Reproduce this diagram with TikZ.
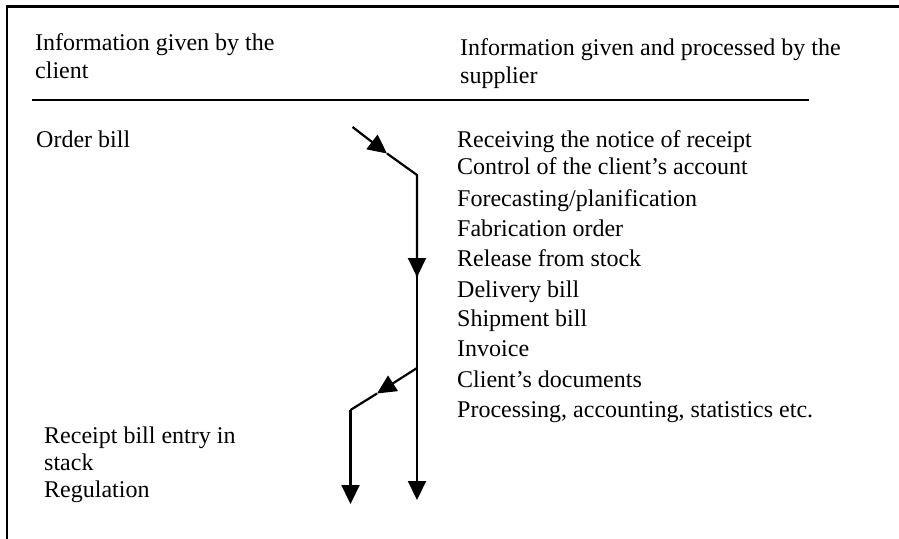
\documentclass[tikz,border=0pt]{standalone}
\usepackage{fontspec}
\setmainfont{Liberation Serif}
\usetikzlibrary{arrows.meta}
\begin{document}
\begin{tikzpicture}[x=1pt,y=-1pt,
  txt/.style={anchor=base west,inner sep=0pt,font=\fontsize{24}{28}\selectfont},
  rule/.style={line width=2.2pt},
  flow/.style={line width=2.2pt,miter limit=10},
  arr/.style={flow,-{Triangle[length=19pt,width=18pt]}}]
\useasboundingbox (0,0) rectangle (899,538);
% frame (top and left only)
\coordinate (tl) at (7.2,6.5);
\coordinate (tr) at (899,6.5);
\coordinate (bl) at (7.2,538);
\draw[rule,line cap=rect] (tr) -- (tl) -- (bl);
% header rule
\coordinate (hl) at (32,100);
\coordinate (hr) at (809,100);
\draw[rule] (hl) -- (hr);
% headers
\node[txt] (h1a) at (35,50) {Information given by the};
\node[txt] (h1b) at (35,78) {client};
\node[txt] (h2a) at (460,55) {Information given and processed by the};
\node[txt] (h2b) at (460,83) {supplier};
% left texts
\node[txt] (order) at (36,147) {Order bill};
\node[txt] (rb1) at (44,443) {Receipt bill entry in};
\node[txt] (rb2) at (44,470) {stack};
\node[txt] (rb3) at (44,497) {Regulation};
% right list
\node[txt] (r1) at (457,147) {Receiving the notice of receipt};
\node[txt] (r2) at (457,174) {Control of the client’s account};
\node[txt] (r3) at (457,206) {Forecasting/planification};
\node[txt] (r4) at (457,236) {Fabrication order};
\node[txt] (r5) at (457,266) {Release from stock};
\node[txt] (r6) at (457,297) {Delivery bill};
\node[txt] (r7) at (457,326) {Shipment bill};
\node[txt] (r8) at (457,356) {Invoice};
\node[txt] (r9) at (457,387) {Client’s documents};
\node[txt] (r10) at (457,417) {Processing, accounting, statistics etc.};
% flow arrows
\coordinate (s) at (352.5,127);
\coordinate (m1) at (387,153.5);
\coordinate (k1) at (417,175);
\coordinate (m2) at (417,277);
\coordinate (b1) at (417,368);
\coordinate (e1) at (417,500);
\coordinate (m3) at (377,393.5);
\coordinate (k2) at (350.5,410);
\coordinate (e2) at (350.5,504);
\draw[arr] (s) -- (m1);
\draw[flow] (m1) -- (k1) -- (m2);
\draw[arr] (k1) -- (m2);
\draw[arr] (m2) -- (e1);
\draw[arr] (b1) -- (m3);
\draw[flow] (m3) -- (k2);
\draw[arr] (k2) -- (e2);
\end{tikzpicture}
\end{document}
